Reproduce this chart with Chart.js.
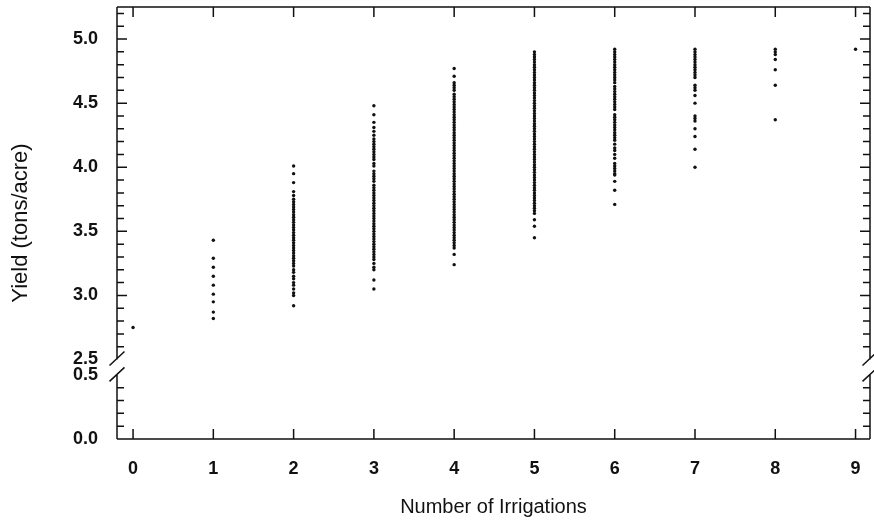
<!DOCTYPE html>
<html>
    <head>
        <meta charset="utf-8">
        <title>Yield vs Irrigations</title>
        <script src="https://cdn.jsdelivr.net/npm/chart.js@4.4.0/dist/chart.umd.min.js"></script>
        <style>
            html, body {
                margin: 0;
                padding: 0;
                background: #fff;
            }
        </style>
    </head>
    <body>
        <canvas id="vis" width="874" height="526"></canvas>
        <script>
            // number of irrigations on the x axis
            const irrigations = [0, 1, 2, 3, 4, 5, 6, 7, 8, 9];

            // yields (tons/acre), one list per irrigation count
            const yield0 = [2.75];
            const yield1 = [3.43, 3.29, 3.22, 3.15, 3.08, 3.01, 2.95, 2.87, 2.82];
            const yield2 = [4.01, 3.95, 3.88, 3.81, 3.78, 3.75, 3.73, 3.71, 3.69, 3.67,
                3.65, 3.63, 3.61, 3.59, 3.57, 3.55, 3.53, 3.51, 3.49, 3.47, 3.45, 3.43,
                3.41, 3.39, 3.37, 3.35, 3.33, 3.31, 3.29, 3.27, 3.25, 3.23, 3.20, 3.18,
                3.15, 3.13, 3.10, 3.08, 3.05, 3.02, 3.00, 2.92];
            const yield3 = [4.48, 4.41, 4.35, 4.31, 4.28, 4.25, 4.22, 4.20, 4.18, 4.16,
                4.14, 4.12, 4.10, 4.08, 4.06, 4.03, 4.01, 3.97, 3.95, 3.93, 3.91, 3.89,
                3.86, 3.84, 3.82, 3.80, 3.78, 3.76, 3.74, 3.72, 3.70, 3.68, 3.66, 3.64,
                3.62, 3.60, 3.58, 3.56, 3.54, 3.52, 3.50, 3.48, 3.46, 3.44, 3.42, 3.40,
                3.38, 3.36, 3.34, 3.32, 3.30, 3.28, 3.25, 3.22, 3.20, 3.12, 3.05];
            const yield4 = [4.77, 4.71, 4.66, 4.64, 4.62, 4.60, 4.57, 4.55, 4.53, 4.51,
                4.49, 4.47, 4.45, 4.43, 4.41, 4.39, 4.37, 4.35, 4.33, 4.31, 4.29, 4.27,
                4.25, 4.23, 4.21, 4.19, 4.17, 4.15, 4.13, 4.11, 4.09, 4.07, 4.05, 4.03,
                4.01, 3.99, 3.97, 3.95, 3.93, 3.91, 3.89, 3.87, 3.85, 3.83, 3.81, 3.79,
                3.77, 3.75, 3.73, 3.71, 3.69, 3.67, 3.65, 3.63, 3.61, 3.59, 3.57, 3.55,
                3.53, 3.51, 3.49, 3.47, 3.45, 3.43, 3.41, 3.39, 3.37, 3.32, 3.24];
            const yield5 = [4.90, 4.88, 4.86, 4.84, 4.82, 4.80, 4.78, 4.76, 4.74, 4.72,
                4.70, 4.68, 4.66, 4.64, 4.62, 4.60, 4.58, 4.56, 4.54, 4.52, 4.50, 4.48,
                4.46, 4.44, 4.42, 4.40, 4.38, 4.36, 4.34, 4.32, 4.30, 4.28, 4.26, 4.24,
                4.22, 4.20, 4.18, 4.16, 4.14, 4.12, 4.10, 4.08, 4.06, 4.04, 4.02, 4.00,
                3.98, 3.96, 3.94, 3.92, 3.90, 3.88, 3.86, 3.84, 3.82, 3.80, 3.78, 3.76,
                3.74, 3.72, 3.70, 3.68, 3.66, 3.64, 3.59, 3.54, 3.45];
            const yield6 = [4.92, 4.90, 4.88, 4.86, 4.84, 4.82, 4.80, 4.78, 4.76, 4.74,
                4.72, 4.70, 4.68, 4.66, 4.63, 4.61, 4.59, 4.57, 4.55, 4.53, 4.51, 4.49,
                4.47, 4.45, 4.41, 4.39, 4.37, 4.35, 4.33, 4.31, 4.29, 4.27, 4.25, 4.23,
                4.21, 4.18, 4.15, 4.13, 4.10, 4.07, 4.03, 4.01, 3.99, 3.97, 3.95, 3.94,
                3.89, 3.82, 3.71];
            const yield7 = [4.92, 4.90, 4.88, 4.86, 4.84, 4.82, 4.80, 4.78, 4.76, 4.74,
                4.72, 4.70, 4.64, 4.62, 4.60, 4.56, 4.50, 4.40, 4.38, 4.36, 4.30, 4.24,
                4.14, 4.00];
            const yield8 = [4.92, 4.90, 4.88, 4.84, 4.76, 4.64, 4.37];
            const yield9 = [4.92];
            const yields = [yield0, yield1, yield2, yield3, yield4, yield5, yield6, yield7, yield8, yield9];

            // tick labels
            const xTicks = irrigations;
            const yTopTicks = [2.5, 3.0, 3.5, 4.0, 4.5, 5.0];
            const yBotTicks = [0.0, 0.5];

            const ink = '#111';
            const family = '"Liberation Sans", Arial, sans-serif';
            const labelFont = {family, size: 18, weight: 'bold'};

            const points = [];
            irrigations.forEach((n, i) => {
                yields[i].forEach(v => points.push({x: n, y: v}));
            });

            // frame with broken y axis and inward tick marks
            const frame = {
                id: 'frame',
                afterDatasetsDraw(chart) {
                    const {ctx, chartArea: a} = chart;
                    const {x, yTop, yBot} = chart.scales;
                    const brTop = yTop.getPixelForValue(yTopTicks[0]);
                    const brBot = yBot.getPixelForValue(yBotTicks[yBotTicks.length - 1]);
                    ctx.save();
                    ctx.strokeStyle = ink;
                    ctx.lineWidth = 1.5;
                    ctx.beginPath();
                    ctx.moveTo(a.left, a.top);
                    ctx.lineTo(a.right, a.top);
                    ctx.moveTo(a.left, a.bottom);
                    ctx.lineTo(a.right, a.bottom);
                    [a.left, a.right].forEach(px => {
                        ctx.moveTo(px, a.top);
                        ctx.lineTo(px, brTop);
                        ctx.moveTo(px, brBot);
                        ctx.lineTo(px, a.bottom);
                        ctx.moveTo(px - 7.5, brTop + 6);
                        ctx.lineTo(px + 7.5, brTop - 8);
                        ctx.moveTo(px - 7.5, brBot + 6.5);
                        ctx.lineTo(px + 7.5, brBot - 7.5);
                    });
                    xTicks.forEach(v => {
                        const px = x.getPixelForValue(v);
                        ctx.moveTo(px, a.bottom);
                        ctx.lineTo(px, a.bottom - 10);
                        ctx.moveTo(px, a.top);
                        ctx.lineTo(px, a.top + 10);
                    });
                    const yTick = (scale, k) => {
                        const py = scale.getPixelForValue(k / 10);
                        const len = k % 5 === 0 ? 10 : 7;
                        ctx.moveTo(a.left, py);
                        ctx.lineTo(a.left + len, py);
                        ctx.moveTo(a.right, py);
                        ctx.lineTo(a.right - len, py);
                    };
                    for (let k = 26; k <= 52; k++) yTick(yTop, k);
                    for (let k = 1; k <= 4; k++) yTick(yBot, k);
                    ctx.stroke();
                    ctx.restore();
                }
            };

            const noGrid = {display: false, drawTicks: false};

            // fixed box sizes, no label overflow padding
            const fitTo = (w, h) => s => {
                if (w !== null) s.width = w;
                if (h !== null) s.height = h;
                s.paddingTop = s.paddingBottom = s.paddingLeft = s.paddingRight = 0;
            };

            new Chart(document.getElementById('vis'), {
                type: 'scatter',
                data: {
                    datasets: [{
                        data: points,
                        yAxisID: 'yTop',
                        pointRadius: 1.7,
                        pointBorderWidth: 0,
                        backgroundColor: ink,
                        borderColor: ink
                    }]
                },
                options: {
                    responsive: false,
                    animation: false,
                    layout: {padding: {top: 7, right: 2, left: 0, bottom: 0}},
                    plugins: {legend: {display: false}, tooltip: {enabled: false}},
                    scales: {
                        x: {
                            type: 'linear',
                            min: -0.2,
                            max: 9.18,
                            grid: noGrid,
                            border: {display: false},
                            afterBuildTicks: s => { s.ticks = xTicks.map(v => ({value: v})); },
                            afterFit: fitTo(null, 87),
                            ticks: {color: ink, font: labelFont, padding: 19, callback: v => String(v)},
                            title: {display: true, text: 'Number of Irrigations', color: ink, font: {family, size: 20}, padding: {top: 0, bottom: 7}}
                        },
                        yBot: {
                            type: 'linear',
                            position: 'left',
                            stack: 'yield',
                            stackWeight: 0.62,
                            min: 0,
                            max: 0.62,
                            grid: noGrid,
                            border: {display: false},
                            afterBuildTicks: s => { s.ticks = yBotTicks.map(v => ({value: v})); },
                            afterFit: fitTo(77, null),
                            ticks: {color: ink, font: labelFont, padding: 19, callback: v => v.toFixed(1)}
                        },
                        yTop: {
                            type: 'linear',
                            position: 'left',
                            stack: 'yield',
                            stackWeight: 2.75,
                            min: 2.5,
                            max: 5.25,
                            grid: noGrid,
                            border: {display: false},
                            afterBuildTicks: s => { s.ticks = yTopTicks.map(v => ({value: v})); },
                            afterFit: fitTo(77, null),
                            ticks: {color: ink, font: labelFont, padding: 19, callback: v => v.toFixed(1)}
                        },
                        yTitle: {
                            type: 'linear',
                            position: 'left',
                            grid: noGrid,
                            border: {display: false},
                            ticks: {display: false},
                            afterFit: fitTo(40, null),
                            title: {display: true, text: 'Yield (tons/acre)', color: ink, font: {family, size: 22}, padding: {top: 8, bottom: 0}}
                        }
                    }
                },
                plugins: [frame]
            });
        </script>
    </body>
</html>
